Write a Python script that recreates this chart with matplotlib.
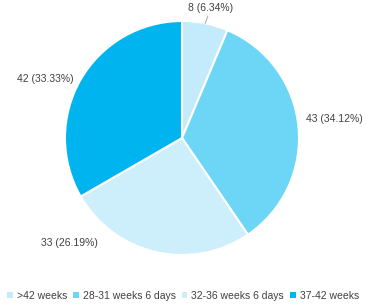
import math
import numpy as np
import matplotlib.pyplot as plt
from matplotlib.patches import Patch

plt.rcParams['font.family'] = ['Liberation Sans', 'DejaVu Sans']

categories = ['>42 weeks', '28-31 weeks 6 days', '32-36 weeks 6 days', '37-42 weeks']
counts = [8, 43, 33, 42]
colors = ['#c3ebfb', '#6dd5f5', '#cdeffc', '#00b4ef']

# label placement (pie data units) and alignment
label_pos = [(0.24, 1.11), (1.06, 0.16), (-0.72, -0.90), (-0.93, 0.50)]
label_ha = ['center', 'left', 'right', 'right']

text_color = '#404040'

fig = plt.figure(figsize=(3.66, 3.08), dpi=100)
ax = fig.add_axes([(182 - 117) / 366, (308 - 138 - 117) / 308, 234 / 366, 234 / 308])

wedges, _ = ax.pie(counts, colors=colors, startangle=90, counterclock=False,
                   radius=1, wedgeprops=dict(edgecolor='white', linewidth=1.5))
ax.set_xlim(-1, 1)
ax.set_ylim(-1, 1)
ax.set_aspect('equal')
ax.axis('off')

total = sum(counts)
for w, n, (x, y), ha in zip(wedges, counts, label_pos, label_ha):
    pct = math.floor(n / total * 10000) / 100
    txt = f'{n} ({pct:.2f}%)'
    ax.text(x, y, txt, ha=ha, va='center', fontsize=7.5, color=text_color,
            clip_on=False)

# leader line for the small slice
w = wedges[0]
mid = np.deg2rad((w.theta1 + w.theta2) / 2)
ax.plot([np.cos(mid), 1.06 * np.cos(mid) + 0.01], [np.sin(mid), 1.06 * np.sin(mid)],
        color='#a6a6a6', lw=0.7, clip_on=False)

handles = [Patch(facecolor=c, edgecolor='none') for c in colors]
fig.legend(handles, categories, loc='center', bbox_to_anchor=(0.5, 12 / 308),
           ncol=4, frameon=False, fontsize=7.5, handlelength=0.55, handleheight=0.55,
           handletextpad=0.4, columnspacing=0.55, labelcolor=text_color,
           borderaxespad=0, borderpad=0)

fig.savefig('out.png', dpi=100)
